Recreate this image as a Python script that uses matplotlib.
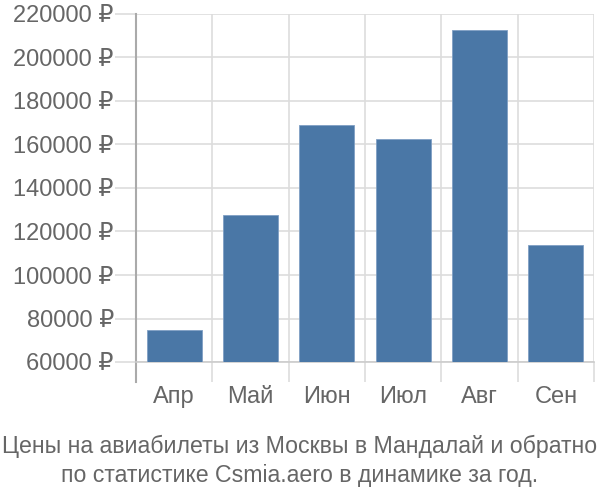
import matplotlib
matplotlib.use("Agg")
import matplotlib.pyplot as plt
from matplotlib.ticker import FuncFormatter, FixedLocator
import numpy as np

months = ["Апр", "Май", "Июн", "Июл", "Авг", "Сен"]
prices = [74900, 127400, 168800, 162500, 212500, 114000]
y_ticks = [60000, 80000, 100000, 120000, 140000, 160000, 180000, 200000, 220000]
title = "Цены на авиабилеты из Москвы в Мандалай и обратно\nпо статистике Csmia.aero в динамике за год."

plt.rcParams['font.family'] = ['Liberation Sans', 'DejaVu Sans']
text_color = "#666666"
grid_color = "#dddddd"
bar_color = "#4a77a6"
base = 60000

fig = plt.figure(figsize=(6, 5), dpi=100)
ax = fig.add_axes([136/600, 1-362/500, (594-136)/600, (362-14)/500])

x = np.arange(len(months))
heights = [p - base for p in prices]
ax.bar(x, heights, bottom=base, width=0.72, color=bar_color,
       edgecolor="#7f9fc4", linewidth=0.6, zorder=3)

ax.set_xlim(-0.5, len(months) - 0.5)
ax.set_ylim(base, 220000)

ax.yaxis.set_major_locator(FixedLocator(y_ticks))
ax.yaxis.set_major_formatter(FuncFormatter(lambda v, p: f"{int(v)} ₽"))
ax.set_xticks(x)
ax.set_xticklabels(months)
ax.xaxis.set_minor_locator(FixedLocator(np.arange(-0.5, len(months), 1.0)))

ax.grid(axis="y", which="major", color=grid_color, linewidth=1.2, zorder=0)
ax.grid(axis="x", which="minor", color=grid_color, linewidth=1.2, zorder=0)

ax.tick_params(axis="y", which="major", length=15, width=1.2, color=grid_color,
               labelsize=17, labelcolor=text_color, pad=1)
ax.tick_params(axis="x", which="major", length=0, labelsize=17,
               labelcolor=text_color, pad=17)
ax.tick_params(axis="x", which="minor", length=14.5, width=1.2, color=grid_color)

for s in ["top", "right"]:
    ax.spines[s].set_visible(False)
ax.spines["bottom"].set_color("#cccccc")
ax.spines["bottom"].set_linewidth(1.2)
ax.spines["left"].set_color("#aaaaaa")
ax.spines["left"].set_linewidth(1.5)
ax.spines["left"].set_bounds(base - 20/348*160000, 220000)

fig.text(0.5, 1-461/500, title, ha="center", va="center", fontsize=16.7,
         color=text_color, linespacing=1.3)

fig.savefig("out.png", dpi=100)
